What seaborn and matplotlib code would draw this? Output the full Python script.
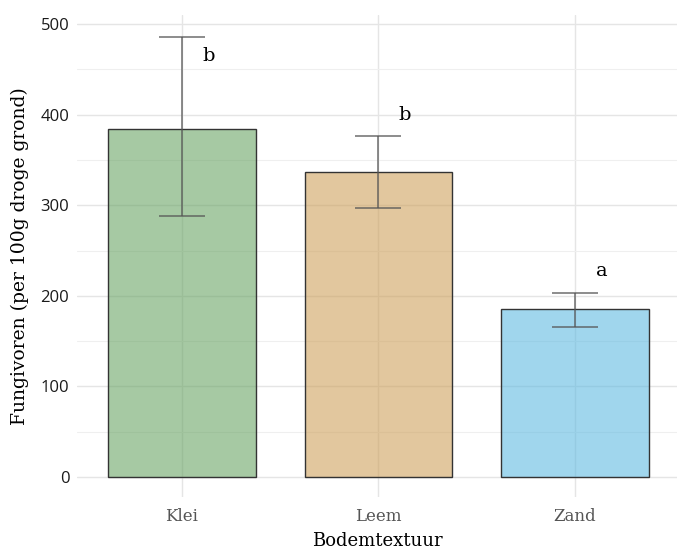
import matplotlib
matplotlib.use("Agg")
import matplotlib.pyplot as plt
import seaborn as sns
import pandas as pd
from matplotlib.colors import to_rgba
from matplotlib.ticker import MultipleLocator

categories = ["Klei", "Leem", "Zand"]
means = [384, 337, 185]
err_low = [288, 297, 166]
err_high = [486, 377, 203]
letters = ["b", "b", "a"]
letter_y = [465, 400, 227]
colors = ["#6BA566", "#CFA25D", "#61BBE1"]

df = pd.DataFrame({"Bodemtextuur": categories, "Fungivoren": means})

sns.set_theme(style="white")
serif = ["DejaVu Serif"]
sans = ["Open Sans", "DejaVu Sans"]

fig = plt.figure(figsize=(6.77, 5.53), dpi=100)
ax = fig.add_axes([77/677, 56/553, 600/677, 482/553])

sns.barplot(data=df, x="Bodemtextuur", y="Fungivoren", hue="Bodemtextuur",
            palette=colors, width=0.75, errorbar=None, legend=False, ax=ax,
            edgecolor="#333333", linewidth=1.0, zorder=2)
for p, c in zip(ax.patches, colors):
    p.set_facecolor(to_rgba(c, 0.6))
    p.set_edgecolor("#333333")

for i in range(len(categories)):
    ax.errorbar(i, means[i],
                yerr=[[means[i] - err_low[i]], [err_high[i] - means[i]]],
                fmt="none", ecolor="#555555", elinewidth=1.1, capsize=16.5,
                capthick=1.1, alpha=0.85, zorder=3)
    ax.text(i + 0.135, letter_y[i], letters[i], ha="center", va="center",
            fontsize=14, family=serif, color="black", zorder=4)

ax.set_xlim(-0.534, 2.519)
ax.set_ylim(-22, 510)
ax.yaxis.set_major_locator(MultipleLocator(100))
ax.yaxis.set_minor_locator(MultipleLocator(50))
ax.set_axisbelow(True)
ax.grid(which="major", color="#E5E5E5", linewidth=1.0)
ax.grid(which="minor", axis="y", color="#EFEFEF", linewidth=0.8)
for s in ax.spines.values():
    s.set_visible(False)
ax.tick_params(axis="both", which="both", length=0)
ax.tick_params(axis="y", pad=5.5)
ax.tick_params(axis="x", pad=8)

for lbl in ax.get_yticklabels():
    lbl.set_family(sans)
    lbl.set_fontsize(12)
    lbl.set_color("#1a1a1a")
    lbl.set_fontweight("medium")
for lbl in ax.get_xticklabels():
    lbl.set_family(serif)
    lbl.set_fontsize(12)
    lbl.set_color("#555555")

ax.set_xlabel("Bodemtextuur", family=serif, fontsize=13, color="black", labelpad=5)
ax.set_ylabel("Fungivoren (per 100g droge grond)", family=serif, fontsize=13.5,
              color="black", labelpad=8)

fig.savefig("out.png", dpi=100)
